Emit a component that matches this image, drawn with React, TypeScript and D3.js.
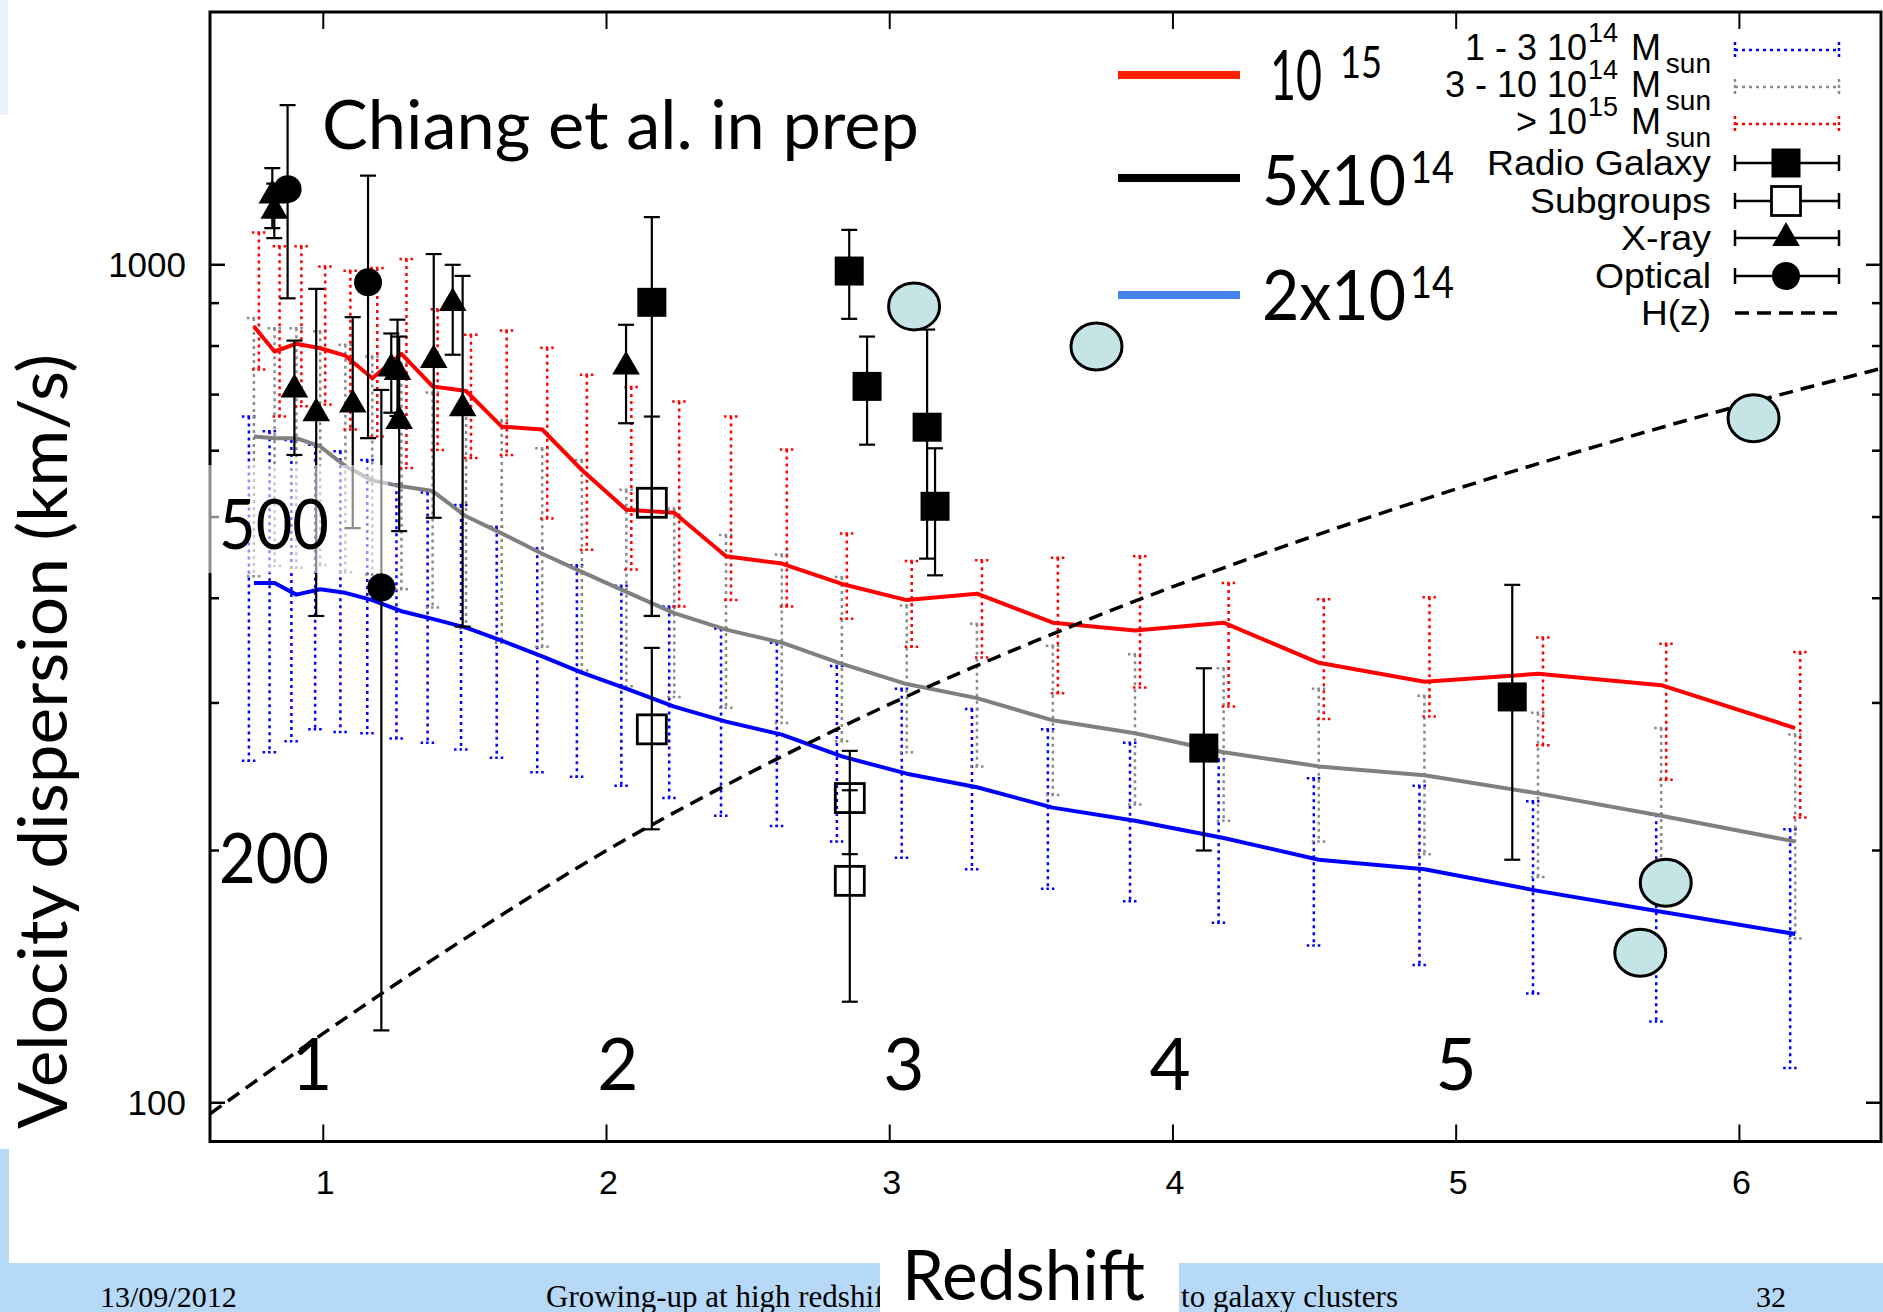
import React from 'react';
import * as d3 from 'd3';

const W = 1883;
const H = 1312;

// ---------- axis definitions ----------
const X_MIN = 0.6;
const X_MAX = 6.5;
const Y_MIN = 89.9;
const Y_MAX = 2003;
const X_TICKS = [1, 2, 3, 4, 5, 6];
const Y_MAJOR = [100, 1000];
const Y_MINOR = [200, 300, 400, 500, 600, 700, 800, 900];

// ---------- simulation (snapshot redshifts) ----------
const SIM_Z = [0.755, 0.828, 0.905, 0.989, 1.078, 1.173, 1.276, 1.386, 1.504, 1.63, 1.773, 1.913, 2.07, 2.239, 2.422, 2.619, 2.831, 3.06, 3.308, 3.576, 3.866, 4.179, 4.515, 4.888, 5.289, 5.724, 6.197];
const CURVE_1E15 = [844, 788, 805, 795, 779, 732, 783, 716, 707, 641, 636, 569, 510, 506, 449, 440, 416, 398, 405, 374, 366, 374, 335, 318, 325, 315, 280];
const CURVE_5E14 = [624, 621, 621, 607, 575, 553, 544, 537, 501, 478, 452, 430, 407, 384, 367, 354, 334, 316, 304, 286, 276, 262, 252, 246, 234, 220, 205];
const CURVE_2E14 = [417, 417, 404, 410, 406, 398, 386, 378, 369, 356, 341, 326, 312, 297, 285, 275, 259, 247, 238, 225, 217, 207, 195, 190, 179, 169, 159];

// dotted scatter bars for the three mass bins
const BIN_HI_TOP = [1093, 1052, 1052, 995, 984, 991, 1016, 885, 825, 835, 796, 739, 715, 687, 659, 602, 478, 443, 444, 447, 449, 417, 399, 401, 359, 353, 345];
const BIN_HI_BOT = [750, 659, 678, 681, 636, 624, 572, 601, 588, 593, 498, 457, 433, 391, 398, 391, 378, 350, 340, 308, 313, 297, 287, 289, 267, 243, 219];
const BIN_MID_TOP = [864, 840, 840, 833, 803, 777, 764, 704, 671, 653, 604, 585, 539, 512, 476, 451, 424, 392, 373, 351, 343, 330, 312, 306, 292, 280, 275];
const BIN_MID_BOT = [425, 437, 435, 438, 430, 427, 410, 390, 368, 354, 350, 328, 314, 305, 296, 284, 270, 262, 252, 233, 227, 217, 205, 198, 186, 178, 157];
const BIN_LO_TOP = [659, 633, 618, 610, 599, 585, 547, 535, 517, 487, 459, 438, 414, 391, 368, 354, 332, 312, 295, 279, 269, 257, 244, 239, 229, 221, 212];
const BIN_LO_BOT = [256, 262, 270, 279, 277, 276, 272, 269, 264, 258, 248, 245, 239, 231, 220, 214, 205, 196, 190, 180, 174, 164, 154, 146, 135, 125, 110];

// ---------- observations ----------
const RADIO = [
  { z: 2.16, v: 902, lo: 381, hi: 1140 },
  { z: 2.857, v: 983, lo: 862, hi: 1101 },
  { z: 2.92, v: 716, lo: 610, hi: 821 },
  { z: 3.132, v: 640, lo: 446, hi: 837 },
  { z: 3.16, v: 515, lo: 426, hi: 604 },
  { z: 4.109, v: 265, lo: 200, hi: 330 },
  { z: 5.198, v: 305, lo: 195, hi: 415 },
];
const SUBGROUPS = [
  { z: 2.16, v: 520, lo: 381, hi: 659 },
  { z: 2.16, v: 279, lo: 212, hi: 349 },
  { z: 2.859, v: 231, lo: 198, hi: 263 },
  { z: 2.859, v: 184, lo: 132, hi: 236 },
];
const XRAY = [
  { z: 0.82, v: 1210, lo: 1106, hi: 1304 },
  { z: 0.827, v: 1160, lo: 1076, hi: 1250 },
  { z: 0.898, v: 710, lo: 593, hi: 812 },
  { z: 0.975, v: 665, lo: 381, hi: 936 },
  { z: 1.104, v: 681, lo: 485, hi: 866 },
  { z: 1.24, v: 752, lo: 666, hi: 828 },
  { z: 1.262, v: 745, lo: 660, hi: 860 },
  { z: 1.268, v: 651, lo: 481, hi: 821 },
  { z: 1.39, v: 770, lo: 499, hi: 1030 },
  { z: 1.457, v: 900, lo: 781, hi: 1000 },
  { z: 1.492, v: 674, lo: 370, hi: 970 },
  { z: 2.069, v: 756, lo: 647, hi: 848 },
];
const OPTICAL = [
  { z: 0.874, v: 1231, lo: 912, hi: 1551 },
  { z: 1.158, v: 953, lo: 621, hi: 1278 },
  { z: 1.205, v: 412, lo: 122, hi: 709 },
];
// highlighted clusters (light blue ellipses)
const HIGHLIGHT_Z = [3.086, 3.73, 6.05, 5.74, 5.65];
const HIGHLIGHT_V = [892, 799, 656, 183, 151];

// H(z) reference curve
const HZ_Z = [0.6, 1.0, 1.5, 2.0, 2.5, 3.0, 3.5, 4.0, 4.5, 5.0, 5.5, 6.0, 6.5];
const HZ_V = [97, 121, 157, 200, 247, 299, 354, 413, 475, 540, 608, 679, 752];

// overlay annotations
const ANNOT_Z = [0.96, 2.04, 3.05, 3.99, 5.0];
const ANNOT_LABELS = ['1', '2', '3', '4', '5'];
const ANNOT_V = [500, 200];

// legend texts
const MASS_LABELS = [
  { pre: '1 - 3 10', exp: '14', len: 127 },
  { pre: '3 - 10 10', exp: '14', len: 145 },
  { pre: '> 10', exp: '15', len: 80 },
];
const SYMBOL_LABELS = ['Radio Galaxy', 'Subgroups', 'X-ray', 'Optical', 'H(z)'];
const SYMBOL_LABEL_LEN = [224, 181, 90, 116, 70];

const GILL = "Lato, 'Open Sans', sans-serif";
const HELV = "'Liberation Sans', Arial, Helvetica, sans-serif";
const TIMES = "'Liberation Serif', 'Times New Roman', serif";

const DOT = '3 4';

export default function App() {
  const xS = d3.scaleLinear().domain([X_MIN, X_MAX]).range([210, 1881]);
  const yS = d3.scaleLog().domain([Y_MIN, Y_MAX]).range([1141.5, 12]);
  const left = xS(X_MIN), right = xS(X_MAX), top = yS(Y_MAX), bottom = yS(Y_MIN);

  const line = d3.line<[number, number]>().x(d => xS(d[0])).y(d => yS(d[1]));
  const smooth = d3.line<[number, number]>().x(d => xS(d[0])).y(d => yS(d[1])).curve(d3.curveMonotoneX);

  const bins = [
    { topv: BIN_LO_TOP, botv: BIN_LO_BOT, color: '#0000ff', dx: -5 },
    { topv: BIN_MID_TOP, botv: BIN_MID_BOT, color: '#8a8a8a', dx: 0 },
    { topv: BIN_HI_TOP, botv: BIN_HI_BOT, color: '#ff0000', dx: 5 },
  ];

  const curves = [
    { vals: CURVE_2E14, color: '#0000ff' },
    { vals: CURVE_5E14, color: '#808080' },
    { vals: CURVE_1E15, color: '#ff0000' },
  ];

  const errBar = (d: any, i: number, key: string) => {
    const x = xS(d.z);
    return (
      <g key={key + i} stroke="#000" strokeWidth={2.2}>
        <line x1={x} x2={x} y1={yS(d.hi)} y2={yS(d.lo)} />
        <line x1={x - 8} x2={x + 8} y1={yS(d.hi)} y2={yS(d.hi)} />
        <line x1={x - 8} x2={x + 8} y1={yS(d.lo)} y2={yS(d.lo)} />
      </g>
    );
  };

  const tri = d3.symbol(d3.symbolTriangle, 330)() as string;

  const square = (x: number, y: number, filled: boolean, key: string) => (
    <rect key={key} x={x - 14.5} y={y - 14.5} width={29} height={29}
      fill={filled ? '#000' : 'none'} stroke="#000" strokeWidth={filled ? 0 : 2.8} />
  );

  // small legend
  const LEG_X0 = 1735, LEG_X1 = 1839, LEG_XC = 1786, LEG_TX = 1711;
  const legY = [50, 87, 124, 163, 201, 238, 276, 313];

  const dottedSample = (y: number, color: string, k: string) => (
    <g key={k} stroke={color} strokeWidth={2.5} strokeDasharray={DOT}>
      <line x1={LEG_X0} x2={LEG_X1} y1={y} y2={y} />
      <line x1={LEG_X0} x2={LEG_X0} y1={y - 8} y2={y + 8} strokeDasharray="3 3" />
      <line x1={LEG_X1} x2={LEG_X1} y1={y - 8} y2={y + 8} strokeDasharray="3 3" />
    </g>
  );
  const solidSample = (y: number, k: string) => (
    <g key={k} stroke="#000" strokeWidth={2.5}>
      <line x1={LEG_X0} x2={LEG_X1} y1={y} y2={y} />
      <line x1={LEG_X0} x2={LEG_X0} y1={y - 8} y2={y + 8} />
      <line x1={LEG_X1} x2={LEG_X1} y1={y - 8} y2={y + 8} />
    </g>
  );

  // mass label: pre + superscript, then " M" + subscript "sun", right-aligned at LEG_TX
  const massLabel = (y: number, m: { pre: string; exp: string; len: number }, k: string) => {
    const base = y + 10;
    const preEnd = LEG_TX - 124;
    return (
      <g key={k} fontFamily={HELV}>
        <text x={preEnd - 33} y={base} textAnchor="end" fontSize={36}>{m.pre}</text>
        <text x={preEnd - 32} y={base - 18} fontSize={27}>{m.exp}</text>
        <text x={preEnd - 79} y={base} fontSize={36} dx={79 + 0}></text>
        <text x={LEG_TX - 79} y={base} fontSize={36}>M</text>
        <text x={LEG_TX} y={base + 13} textAnchor="end" fontSize={28}>sun</text>
      </g>
    );
  };

  return (
    <svg width={W} height={H} style={{ position: 'absolute', left: 0, top: 0, background: '#fff' }}
      xmlns="http://www.w3.org/2000/svg">
      <rect x={0} y={0} width={W} height={H} fill="#fff" />
      {/* slide decorations */}
      <rect x={0} y={0} width={8} height={115} fill="#e9f1fc" />
      <rect x={0} y={1149} width={9} height={114} fill="#b6d9f7" />
      <rect x={0} y={1263} width={W} height={49} fill="#b6d9f7" />

      <defs>
        <clipPath id="plotclip">
          <rect x={left} y={top} width={right - left} height={bottom - top} />
        </clipPath>
        <clipPath id="footclip">
          <rect x={0} y={1200} width={880} height={112} />
        </clipPath>
      </defs>

      <g clipPath="url(#plotclip)">
        {/* dotted scatter bars */}
        {bins.map((b, bi) => (
          <g key={'bin' + bi} stroke={b.color} strokeWidth={2.5} strokeDasharray={DOT} fill="none">
            {SIM_Z.map((z, i) => {
              const x = xS(z) + b.dx;
              const y1 = yS(b.topv[i]);
              const y2 = yS(b.botv[i]);
              return (
                <g key={i}>
                  <line x1={x} x2={x} y1={y1} y2={y2} />
                  <line x1={x - 7} x2={x + 7} y1={y1} y2={y1} strokeDasharray="2.5 3" />
                  <line x1={x - 7} x2={x + 7} y1={y2} y2={y2} strokeDasharray="2.5 3" />
                </g>
              );
            })}
          </g>
        ))}
        {/* model curves */}
        {curves.map((c, ci) => (
          <path key={'c' + ci} d={line(SIM_Z.map((z, i) => [z, c.vals[i]] as [number, number])) || ''}
            fill="none" stroke={c.color} strokeWidth={4} strokeLinejoin="round" />
        ))}
        {/* H(z) */}
        <path d={smooth(HZ_Z.map((z, i) => [z, HZ_V[i]] as [number, number])) || ''} fill="none"
          stroke="#000" strokeWidth={3.5} strokeDasharray="14 8" />

        {/* observations */}
        {RADIO.map((d, i) => errBar(d, i, 'rge'))}
        {SUBGROUPS.map((d, i) => errBar(d, i, 'sge'))}
        {XRAY.map((d, i) => errBar(d, i, 'xe'))}
        {OPTICAL.map((d, i) => errBar(d, i, 'oe'))}
        {RADIO.map((d, i) => square(xS(d.z), yS(d.v), true, 'rg' + i))}
        {SUBGROUPS.map((d, i) => square(xS(d.z), yS(d.v), false, 'sg' + i))}
        {XRAY.map((d, i) => (
          <path key={'x' + i} d={tri} transform={`translate(${xS(d.z)},${yS(d.v)})`} fill="#000" />
        ))}
        {OPTICAL.map((d, i) => (
          <circle key={'o' + i} cx={xS(d.z)} cy={yS(d.v)} r={14} fill="#000" />
        ))}
        {HIGHLIGHT_Z.map((z, i) => (
          <ellipse key={'h' + i} cx={xS(z)} cy={yS(HIGHLIGHT_V[i])} rx={25.5} ry={23.5}
            fill="#c4e4e6" stroke="#000" strokeWidth={3} />
        ))}
      </g>

      {/* frame */}
      <rect x={left} y={top} width={right - left} height={bottom - top} fill="none" stroke="#000" strokeWidth={3} />
      {/* x ticks */}
      {X_TICKS.map(t => (
        <g key={'xt' + t} stroke="#000" strokeWidth={2}>
          <line x1={xS(t)} x2={xS(t)} y1={bottom} y2={bottom - 17} />
          <line x1={xS(t)} x2={xS(t)} y1={top} y2={top + 17} />
        </g>
      ))}
      {X_TICKS.map(t => (
        <text key={'xl' + t} x={xS(t) + 2} y={bottom + 52} textAnchor="middle" fontFamily={HELV} fontSize={34}>{t}</text>
      ))}
      {/* y ticks */}
      {Y_MAJOR.map(t => (
        <g key={'ym' + t} stroke="#000" strokeWidth={2.5}>
          <line x1={left} x2={left + 15} y1={yS(t)} y2={yS(t)} />
          <line x1={right} x2={right - 15} y1={yS(t)} y2={yS(t)} />
        </g>
      ))}
      {Y_MINOR.map(t => (
        <g key={'yn' + t} stroke="#000" strokeWidth={2.5}>
          <line x1={left} x2={left + 9} y1={yS(t)} y2={yS(t)} />
          <line x1={right} x2={right - 9} y1={yS(t)} y2={yS(t)} />
        </g>
      ))}
      {Y_MAJOR.map(t => (
        <text key={'yl' + t} x={left - 24} y={yS(t) + 12} textAnchor="end" fontFamily={HELV} fontSize={35}>{t}</text>
      ))}

      {/* translucent box behind the "500" annotation */}
      <rect x={205} y={yS(ANNOT_V[0]) - 52} width={183} height={108} fill="#fff" opacity={0.55} />

      {/* big overlay annotations */}
      {ANNOT_V.map(v => (
        <text key={'av' + v} x={219} y={yS(v) + 32} fontFamily={GILL} fontSize={70} textLength={110}
          lengthAdjust="spacingAndGlyphs">{v}</text>
      ))}
      {ANNOT_Z.map((z, i) => (
        <text key={'az' + i} x={xS(z)} y={1090} textAnchor="middle" fontFamily={GILL} fontSize={71}>{ANNOT_LABELS[i]}</text>
      ))}
      <text x={322} y={149} fontFamily={GILL} fontSize={68} textLength={597} lengthAdjust="spacingAndGlyphs">Chiang et al. in prep</text>

      {/* big legend */}
      <line x1={1118} x2={1240} y1={75} y2={75} stroke="#ff2200" strokeWidth={8} />
      <line x1={1118} x2={1240} y1={178} y2={178} stroke="#000" strokeWidth={8} />
      <line x1={1118} x2={1240} y1={295} y2={295} stroke="#4683f0" strokeWidth={8} />
      <text x={1270} y={100} fontFamily={GILL} fontSize={70} textLength={52} lengthAdjust="spacingAndGlyphs">10</text>
      <text x={1340} y={78} fontFamily={GILL} fontSize={45} textLength={42} lengthAdjust="spacingAndGlyphs">15</text>
      <text x={1262} y={205} fontFamily={GILL} fontSize={70} textLength={144} lengthAdjust="spacingAndGlyphs">5x10</text>
      <text x={1410} y={183} fontFamily={GILL} fontSize={45} textLength={44} lengthAdjust="spacingAndGlyphs">14</text>
      <text x={1262} y={320} fontFamily={GILL} fontSize={70} textLength={144} lengthAdjust="spacingAndGlyphs">2x10</text>
      <text x={1410} y={298} fontFamily={GILL} fontSize={45} textLength={44} lengthAdjust="spacingAndGlyphs">14</text>

      {/* small gnuplot legend */}
      {MASS_LABELS.map((m, i) => (
        <g key={'ml' + i} fontFamily={HELV}>
          <text x={1587} y={legY[i] + 10} textAnchor="end" fontSize={36}>{m.pre}</text>
          <text x={1588} y={legY[i] - 8} fontSize={27}>{m.exp}</text>
          <text x={1631} y={legY[i] + 10} fontSize={36}>M</text>
          <text x={LEG_TX} y={legY[i] + 23} textAnchor="end" fontSize={28}>sun</text>
        </g>
      ))}
      {dottedSample(legY[0], '#0000ff', 's1')}
      {dottedSample(legY[1], '#8a8a8a', 's2')}
      {dottedSample(legY[2], '#ff0000', 's3')}
      {SYMBOL_LABELS.map((t, i) => (
        <text key={'lt' + i} x={LEG_TX} y={legY[3 + i] + 12} textAnchor="end" fontFamily={HELV} fontSize={35}
          textLength={SYMBOL_LABEL_LEN[i]} lengthAdjust="spacingAndGlyphs">{t}</text>
      ))}
      {solidSample(legY[3], 'l4')}
      {solidSample(legY[4], 'l5')}
      {solidSample(legY[5], 'l6')}
      {solidSample(legY[6], 'l7')}
      {square(LEG_XC, legY[3], true, 'lg1')}
      <rect x={LEG_XC - 14.5} y={legY[4] - 14.5} width={29} height={29} fill="#fff" stroke="#000" strokeWidth={2.8} />
      <path d={tri} transform={`translate(${LEG_XC},${legY[5]})`} fill="#000" />
      <circle cx={LEG_XC} cy={legY[6]} r={14} fill="#000" />
      <line x1={LEG_X0} x2={LEG_X1} y1={legY[7]} y2={legY[7]} stroke="#000" strokeWidth={3.5} strokeDasharray="14 8" />

      {/* axis titles */}
      <text transform="translate(67,1129) rotate(-90)" fontFamily={GILL} fontSize={68} textLength={775}
        lengthAdjust="spacingAndGlyphs">Velocity dispersion (km/s)</text>

      {/* footer */}
      <text x={100} y={1307} fontFamily={TIMES} fontSize={30}>13/09/2012</text>
      <text x={546} y={1307} fontFamily={TIMES} fontSize={31} clipPath="url(#footclip)">Growing-up at high redshift</text>
      <text x={1398} y={1307} textAnchor="end" fontFamily={TIMES} fontSize={31}>to galaxy clusters</text>
      <text x={1771} y={1307} textAnchor="middle" fontFamily={TIMES} fontSize={30}>32</text>
      <rect x={880} y={1240} width={299} height={72} fill="#fff" />
      <text x={902} y={1300} fontFamily={GILL} fontSize={70} textLength={243} lengthAdjust="spacingAndGlyphs">Redshift</text>
    </svg>
  );
}
